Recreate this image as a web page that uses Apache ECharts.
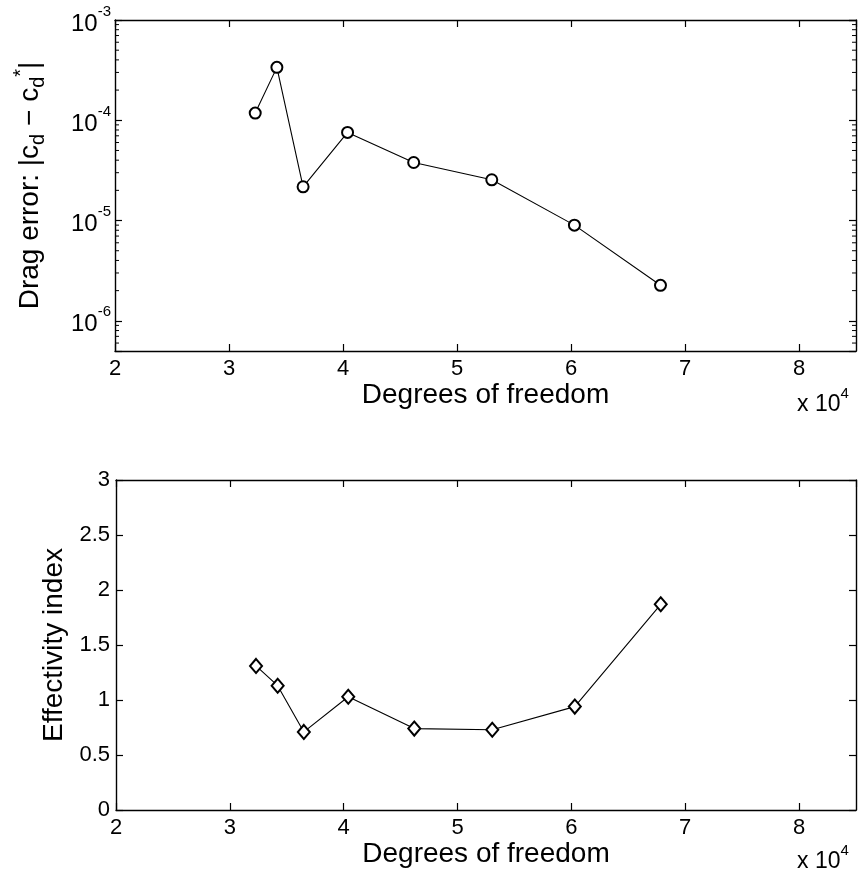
<!DOCTYPE html>
<html>
<head>
<meta charset="utf-8">
<script src="https://cdn.jsdelivr.net/npm/echarts@6/dist/echarts.min.js"></script>
<style>html,body{margin:0;padding:0;background:#fff;}#c{width:858px;height:876px;}</style>
</head>
<body>
<div id="c"></div>
<script>
// ---- data ----
var dof = [32300, 34200, 36500, 40400, 46200, 53050, 60300, 67850];
var dragError = [1.18e-4, 3.37e-4, 2.17e-5, 7.57e-5, 3.79e-5, 2.55e-5, 9.0e-6, 2.26e-6];
var effectivity = [1.31, 1.13, 0.71, 1.03, 0.74, 0.73, 0.94, 1.87];
var xTicks = [2, 3, 4, 5, 6, 7, 8];          // x 10^4
var effTicks = [0, 0.5, 1, 1.5, 2, 2.5, 3];
var xLabel = 'Degrees of freedom';
var effLabel = 'Effectivity index';

var FONT = 'Liberation Sans, Arial, Helvetica, sans-serif';
var chart = echarts.init(document.getElementById('c'));

function pairs(xs, ys) { return xs.map(function (x, i) { return [x, ys[i]]; }); }

// minor log ticks (2..9 x 10^k) inside the log range
var logMin = 5e-7, logMax = 1e-3;
var minorVals = [];
for (var k = -7; k <= -4; k++) {
  for (var m = 2; m <= 9; m++) {
    var v = m * Math.pow(10, k);
    if (v > logMin && v < logMax) minorVals.push(v);
  }
}

var axisLineStyle = { color: '#000', width: 1.4 };
var tickStyle = { color: '#000', width: 1.2 };

function xAxisPair(grid) {
  return [{
    type: 'value', gridIndex: grid, position: 'bottom',
    min: xTicks[0] * 1e4, max: 85000, interval: 10000,
    axisLine: { onZero: false, lineStyle: axisLineStyle },
    axisTick: { inside: true, length: 7, lineStyle: tickStyle },
    splitLine: { show: false },
    axisLabel: { color: '#000', fontSize: 22, fontFamily: FONT, margin: 7, showMaxLabel: false,
      formatter: function (v) { return xTicks.indexOf(v / 1e4) >= 0 ? String(v / 1e4) : ''; } },
    name: xLabel, nameLocation: 'middle', nameGap: 28,
    nameTextStyle: { color: '#000', fontSize: 28, fontFamily: FONT, verticalAlign: 'top' }
  }, {
    type: 'value', gridIndex: grid, position: 'top',
    min: xTicks[0] * 1e4, max: 85000, interval: 10000,
    axisLine: { onZero: false, lineStyle: axisLineStyle },
    axisTick: { inside: true, length: 7, lineStyle: tickStyle },
    splitLine: { show: false },
    axisLabel: { show: false }
  }];
}

var xAxes = xAxisPair(0).concat(xAxisPair(1));

var yAxes = [
  {
    type: 'log', gridIndex: 0, position: 'left', min: logMin, max: logMax, logBase: 10,
    axisLine: { onZero: false, lineStyle: axisLineStyle },
    axisTick: { inside: true, length: 7, lineStyle: tickStyle },
    splitLine: { show: false },
    axisLabel: {
      color: '#000', fontFamily: FONT, margin: 4,
      formatter: function (v) {
        var l = Math.log10(v), e = Math.round(l);
        if (Math.abs(l - e) > 1e-6) return '';
        return '{b|10}{s|' + e + '}';
      },
      rich: {
        b: { fontSize: 24, fontFamily: FONT, color: '#000', verticalAlign: 'bottom', padding: [8, 0, 0, 0] },
        s: { fontSize: 15, fontFamily: FONT, color: '#000', verticalAlign: 'top' }
      }
    },
    name: 'Drag error: |c{sub|d} − c{sub|d}{sup|*}|',
    nameLocation: 'middle', nameGap: 66, nameRotate: 90,
    nameTextStyle: {
      color: '#000', fontSize: 28, fontFamily: FONT, verticalAlign: 'bottom',
      rich: {
        sub: { fontSize: 20, fontFamily: FONT, color: '#000', padding: [16, 0, 0, 0] },
        sup: { fontSize: 20, fontFamily: FONT, color: '#000', padding: [0, 0, 18, 0] }
      }
    }
  },
  {
    type: 'log', gridIndex: 0, position: 'right', min: logMin, max: logMax, logBase: 10,
    axisLine: { onZero: false, lineStyle: axisLineStyle },
    axisTick: { inside: true, length: 7, lineStyle: tickStyle },
    splitLine: { show: false },
    axisLabel: { show: false }
  },
  {
    type: 'value', gridIndex: 1, position: 'left',
    min: effTicks[0], max: effTicks[effTicks.length - 1], interval: 0.5,
    axisLine: { onZero: false, lineStyle: axisLineStyle },
    axisTick: { inside: true, length: 7, lineStyle: tickStyle },
    splitLine: { show: false },
    axisLabel: { color: '#000', fontSize: 22, fontFamily: FONT, margin: 6 },
    name: effLabel, nameLocation: 'middle', nameGap: 46, nameRotate: 90,
    nameTextStyle: { color: '#000', fontSize: 28, fontFamily: FONT, verticalAlign: 'bottom' }
  },
  {
    type: 'value', gridIndex: 1, position: 'right',
    min: effTicks[0], max: effTicks[effTicks.length - 1], interval: 0.5,
    axisLine: { onZero: false, lineStyle: axisLineStyle },
    axisTick: { inside: true, length: 7, lineStyle: tickStyle },
    splitLine: { show: false },
    axisLabel: { show: false }
  }
];

var xPow = '{b|x 10}{s|4}';
var xPowRich = {
  b: { fontSize: 23, fontFamily: FONT, fill: '#000', verticalAlign: 'bottom', padding: [7, 0, 0, 0] },
  s: { fontSize: 15, fontFamily: FONT, fill: '#000', verticalAlign: 'top' }
};

var option = {
  backgroundColor: '#fff',
  animation: false,
  grid: [
    { left: 115, top: 20, width: 741, height: 331, containLabel: false, outerBoundsMode: 'none' },
    { left: 116, top: 480, width: 740, height: 330, containLabel: false, outerBoundsMode: 'none' }
  ],
  xAxis: xAxes,
  yAxis: yAxes,
  graphic: [
    { type: 'text', left: 797, top: 386, style: { text: xPow, rich: xPowRich } },
    { type: 'text', left: 797, top: 843, style: { text: xPow, rich: xPowRich } }
  ],
  series: [
    {
      type: 'line', xAxisIndex: 0, yAxisIndex: 0, data: pairs(dof, dragError),
      symbol: 'emptyCircle', symbolSize: 11,
      lineStyle: { color: '#000', width: 1.1 },
      itemStyle: { color: '#000', borderColor: '#000', borderWidth: 1.2 }
    },
    {
      type: 'custom', xAxisIndex: 0, yAxisIndex: 0, silent: true,
      data: minorVals.map(function (v) { return [xTicks[0] * 1e4, v]; }),
      renderItem: function (params, api) {
        var cs = params.coordSys;
        var y = api.coord([api.value(0), api.value(1)])[1];
        var st = { stroke: '#000', lineWidth: 1 };
        return { type: 'group', children: [
          { type: 'line', shape: { x1: cs.x, y1: y, x2: cs.x + 4, y2: y }, style: st },
          { type: 'line', shape: { x1: cs.x + cs.width - 4, y1: y, x2: cs.x + cs.width, y2: y }, style: st }
        ] };
      }
    },
    {
      type: 'line', xAxisIndex: 2, yAxisIndex: 2, data: pairs(dof, effectivity),
      symbol: 'emptyDiamond', symbolSize: [12, 14],
      lineStyle: { color: '#000', width: 1.1 },
      itemStyle: { color: '#000', borderColor: '#000', borderWidth: 1.2 }
    }
  ]
};
chart.setOption(option);
</script>
</body>
</html>
